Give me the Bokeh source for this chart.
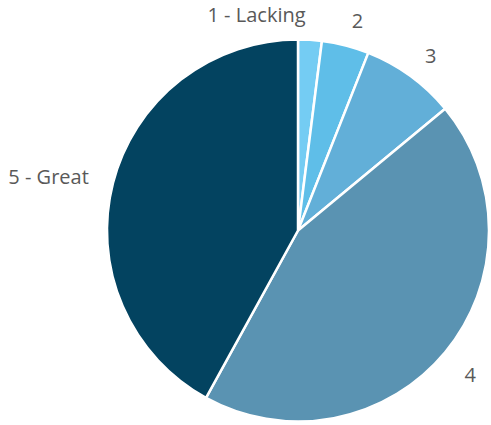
import numpy as np
from bokeh.plotting import figure
from bokeh.models import ColumnDataSource, Range1d
from bokeh.core.properties import value
from bokeh.embed import file_html
from bokeh.resources import INLINE

categories = ["1 - Lacking", "2", "3", "4", "5 - Great"]
values = [2, 4, 8, 44, 42]
colors = ["#74CCF3", "#5FBEE8", "#62AFD8", "#5A93B2", "#034360"]

W, H = 491, 425
p = figure(width=W, height=H, output_backend="svg", toolbar_location=None,
           x_range=Range1d(0, W), y_range=Range1d(0, H),
           min_border=0)
p.axis.visible = False
p.grid.visible = False
p.outline_line_color = None
p.background_fill_color = "white"

cx, cy, r = 297.5, 195.0, 191.0
frac = np.array(values, dtype=float) / sum(values)
cum = np.concatenate([[0], np.cumsum(frac)])
start = np.pi / 2 - cum[:-1] * 2 * np.pi
end = np.pi / 2 - cum[1:] * 2 * np.pi
mid = (start + end) / 2

src = ColumnDataSource(dict(cat=categories, start=start, end=end, color=colors))
p.wedge(x=cx, y=cy, radius=r, start_angle="start", end_angle="end",
        direction="clock", fill_color="color", line_color="white",
        line_width=2.5, source=src)

rl = 216.0
lx = cx + rl * np.cos(mid)
ly = cy + rl * np.sin(mid)
aligns = ["right", "left", "left", "left", "right"]
bases = ["middle", "middle", "middle", "top", "middle"]
xoffs = [-6, 0, 0, 0, 0]
lsrc = ColumnDataSource(dict(x=lx, y=ly, t=categories, a=aligns, b=bases, xo=xoffs))
p.text(x="x", y="y", text="t", text_align="a", text_baseline="b", x_offset="xo",
       text_font=value("Open Sans"), text_font_size="20px",
       text_color="#595959", source=lsrc)

open("out.html", "w").write(file_html(p, INLINE))
